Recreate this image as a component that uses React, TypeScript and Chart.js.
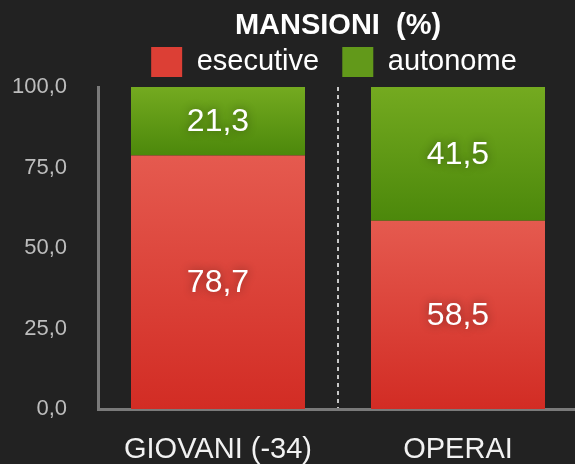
import React, { useEffect, useRef } from 'react';
import { Chart, registerables } from 'chart.js';

Chart.register(...registerables);

const categories = ['GIOVANI (-34)', 'OPERAI'];
const seriesNames = ['esecutive', 'autonome'];
const esecutive = [78.7, 58.5];
const autonome = [21.3, 41.5];
const yMin = 0;
const yMax = 100;
const yStep = 25;
const titleText = 'MANSIONI  (%)';

const FONT = '"Liberation Sans", Arial, Helvetica, sans-serif';
const fmt = (v: number) => v.toFixed(1).replace('.', ',');

const RED = { top: '#e55a4f', bottom: '#d22c24', solid: '#dc3f35' };
const GREEN = { top: '#74aa20', bottom: '#4c880b', solid: '#62991a' };

function segmentFill(pal: { top: string; bottom: string; solid: string }, datasetIndex: number) {
  return (ctx: any) => {
    const chart = ctx.chart;
    const area = chart.chartArea;
    const y = chart.scales && chart.scales.y;
    if (!area || !y || ctx.type !== 'data') return pal.solid;
    const i = ctx.dataIndex;
    let lo = 0;
    let hi = esecutive[i];
    if (datasetIndex === 1) {
      lo = esecutive[i];
      hi = esecutive[i] + autonome[i];
    }
    const yTop = y.getPixelForValue(hi);
    const yBot = y.getPixelForValue(lo);
    if (!isFinite(yTop) || !isFinite(yBot)) return pal.solid;
    const g = chart.ctx.createLinearGradient(0, yTop, 0, yBot);
    g.addColorStop(0, pal.top);
    g.addColorStop(1, pal.bottom);
    return g;
  };
}

const valueLabels = {
  id: 'valueLabels',
  afterDatasetsDraw(chart: any) {
    const { ctx } = chart;
    ctx.save();
    ctx.font = `32px ${FONT}`;
    ctx.fillStyle = '#ffffff';
    ctx.textAlign = 'center';
    ctx.textBaseline = 'middle';
    ctx.shadowColor = 'rgba(0,0,0,0.45)';
    ctx.shadowBlur = 10;
    chart.data.datasets.forEach((ds: any, di: number) => {
      const meta = chart.getDatasetMeta(di);
      meta.data.forEach((el: any, i: number) => {
        const { x, y, base } = el.getProps(['x', 'y', 'base'], true);
        ctx.fillText(fmt(ds.data[i]), x, (y + base) / 2 + 1);
      });
    });
    ctx.restore();
  },
};

export default function App() {
  const ref = useRef<HTMLCanvasElement | null>(null);

  useEffect(() => {
    if (!ref.current) return;
    const chart = new Chart(ref.current, {
      type: 'bar',
      data: {
        labels: categories,
        datasets: [
          {
            label: seriesNames[0],
            data: esecutive,
            backgroundColor: segmentFill(RED, 0),
            borderWidth: 0,
            barPercentage: 0.725,
            categoryPercentage: 1,
          },
          {
            label: seriesNames[1],
            data: autonome,
            backgroundColor: segmentFill(GREEN, 1),
            borderWidth: 0,
            barPercentage: 0.725,
            categoryPercentage: 1,
          },
        ],
      },
      options: {
        responsive: false,
        animation: false,
        events: [],
        devicePixelRatio: 1,
        layout: { padding: 0 },
        plugins: {
          tooltip: { enabled: false },
          title: {
            display: true,
            text: titleText,
            color: '#ffffff',
            fullSize: false,
            font: { family: FONT, size: 29, weight: 'bold', lineHeight: 1 },
            padding: { top: 11, bottom: 0 },
          },
          legend: {
            display: true,
            position: 'top',
            fullSize: false,
            labels: {
              color: '#ffffff',
              boxWidth: 31,
              boxHeight: 30,
              padding: 7,
              font: { family: FONT, size: 29 },
              generateLabels: (c: any) =>
                (Chart as any).defaults.plugins.legend.labels
                  .generateLabels(c)
                  .map((l: any, i: number) => ({
                    ...l,
                    fillStyle: i === 0 ? RED.solid : GREEN.solid,
                    lineWidth: 0,
                    text: i === 0 ? l.text + '  ' : l.text + ' ',
                  })),
            },
          },
        },
        scales: {
          x: {
            stacked: true,
            afterFit: (s: any) => {
              s.height = 55;
            },
            grid: {
              display: true,
              offset: true,
              drawTicks: false,
              lineWidth: 2,
              color: (ctx: any) => (ctx.index === 1 ? '#c8c8c8' : 'rgba(0,0,0,0)'),
            },
            border: { display: true, color: '#7a7a7a', width: 3, dash: [4, 4] },
            ticks: {
              color: '#f2f2f2',
              padding: 24,
              font: { family: FONT, size: 29 },
            },
          },
          y: {
            stacked: true,
            min: yMin,
            max: yMax,
            afterFit: (s: any) => {
              s.width = 98;
            },
            grid: { display: false, drawTicks: false },
            border: { display: true, color: '#7a7a7a', width: 3 },
            ticks: {
              stepSize: yStep,
              color: '#bdbdbd',
              padding: 31,
              font: { family: FONT, size: 22 },
              callback: (v: any) => fmt(Number(v)),
            },
          },
        },
      },
      plugins: [valueLabels],
    } as any);
    return () => chart.destroy();
  }, []);

  return (
    <div
      style={{
        position: 'fixed',
        left: 0,
        top: 0,
        width: 575,
        height: 464,
        overflow: 'hidden',
        background: '#222222',
      }}
    >
      <canvas ref={ref} width={578} height={464} style={{ display: 'block' }} />
    </div>
  );
}
